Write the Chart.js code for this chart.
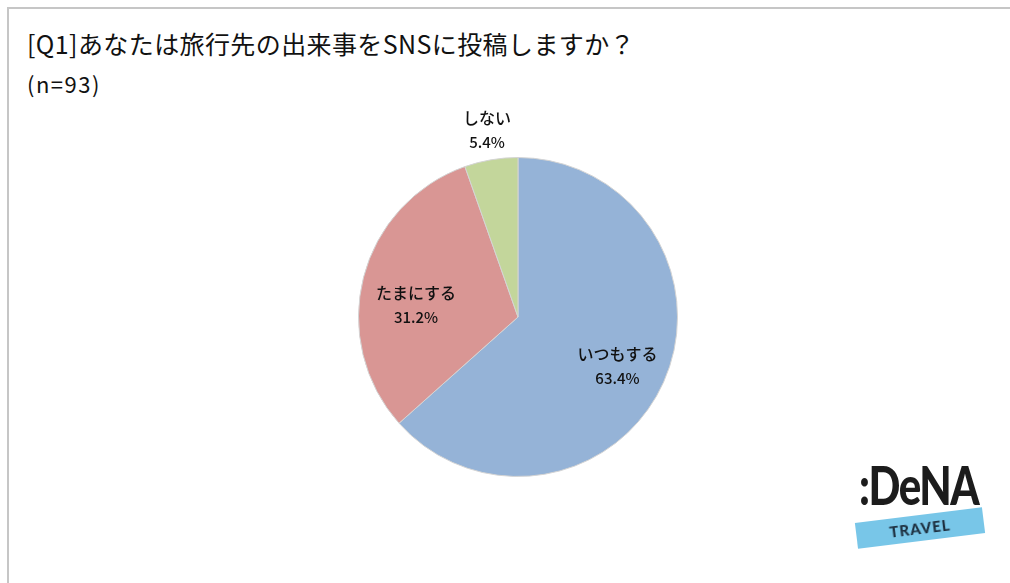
<!DOCTYPE html>
<html>
<head>
<meta charset="utf-8">
<script src="https://cdn.jsdelivr.net/npm/chart.js@4"></script>
<style>
  html, body { margin: 0; padding: 0; background: #fff; }
  body { width: 1010px; height: 583px; position: relative; overflow: hidden;
         font-family: "Noto Sans CJK JP", "Noto Sans", sans-serif; color: #111; }
  #frame { position: absolute; left: 7px; top: 7px; right: -10px; bottom: -10px;
           border-left: 2px solid #c6c6c6; border-top: 2px solid #c6c6c6; }
  #title { position: absolute; left: 27px; top: 26px; font-size: 25px; line-height: 34px;
           white-space: nowrap; letter-spacing: 0.4px; }
  #sub { position: absolute; left: 27px; top: 68px; font-size: 22px; line-height: 30px; letter-spacing: 1.5px; }
  #wrap { position: absolute; left: 0; top: 0; width: 1010px; height: 583px; }
  #logo { position: absolute; left: 852px; top: 452px; width: 140px; height: 100px; }
  #logo .name { position: absolute; left: 7px; top: 2px; font-family: "Lato", "DejaVu Sans", sans-serif;
                font-weight: 900; font-size: 42px; line-height: 50px; color: #1c1c1c; letter-spacing: -1.5px;
                transform: scaleY(1.25); transform-origin: left top; }
  #logo .band { position: absolute; left: 4px; top: 63px; width: 128px; height: 26px;
                background: #78c6e8; transform: rotate(-7deg); text-align: center;
                font-family: "Lato", "DejaVu Sans", sans-serif; font-weight: 900; font-size: 15px;
                line-height: 26px; color: #1d2f3f; letter-spacing: 1px; }
</style>
</head>
<body>
<div id="frame"></div>
<div id="title">[Q1]あなたは旅行先の出来事をSNSに投稿しますか？</div>
<div id="sub">(n=93)</div>
<div id="wrap"><canvas id="pie" width="1010" height="583"></canvas></div>
<div id="logo"><div class="name">:DeNA</div><div class="band">TRAVEL</div></div>
<script>
var CATEGORIES = ['いつもする', 'たまにする', 'しない'];
var PERCENTS = [63.4, 31.2, 5.4];
var SLICE_COLORS = ['#95b3d7', '#d99694', '#c3d69b'];

// label placement: distance from center as a fraction of radius, plus a small nudge
var labelPlacement = {
  radius: [0.69, 0.66, 1.19],
  nudge: [[-1, 4], [0, 14], [1, 0]]
};

var pieLabels = {
  id: 'pieLabels',
  afterDatasetsDraw: function(chart) {
    var ctx = chart.ctx;
    var meta = chart.getDatasetMeta(0);
    ctx.save();
    ctx.fillStyle = '#111';
    ctx.textAlign = 'center';
    ctx.textBaseline = 'middle';
    meta.data.forEach(function(arc, i) {
      var mid = (arc.startAngle + arc.endAngle) / 2;
      var d = arc.outerRadius * labelPlacement.radius[i];
      var x = arc.x + Math.cos(mid) * d + labelPlacement.nudge[i][0];
      var y = arc.y + Math.sin(mid) * d + labelPlacement.nudge[i][1];
      ctx.font = '500 16px "Noto Sans CJK JP", sans-serif';
      ctx.fillText(CATEGORIES[i], x, y - 12);
      ctx.font = '500 15px "Noto Sans CJK JP", sans-serif';
      ctx.fillText(PERCENTS[i].toFixed(1) + '%', x, y + 12);
    });
    ctx.restore();
  }
};

new Chart(document.getElementById('pie'), {
  type: 'pie',
  data: {
    labels: CATEGORIES,
    datasets: [{
      data: PERCENTS,
      backgroundColor: SLICE_COLORS,
      borderColor: '#d4d4d4',
      borderWidth: 1
    }]
  },
  options: {
    responsive: false,
    animation: false,
    events: [],
    layout: { padding: { left: 358, right: 332, top: 157, bottom: 106 } },
    plugins: {
      legend: { display: false },
      tooltip: { enabled: false }
    }
  },
  plugins: [pieLabels]
});
</script>
</body>
</html>
